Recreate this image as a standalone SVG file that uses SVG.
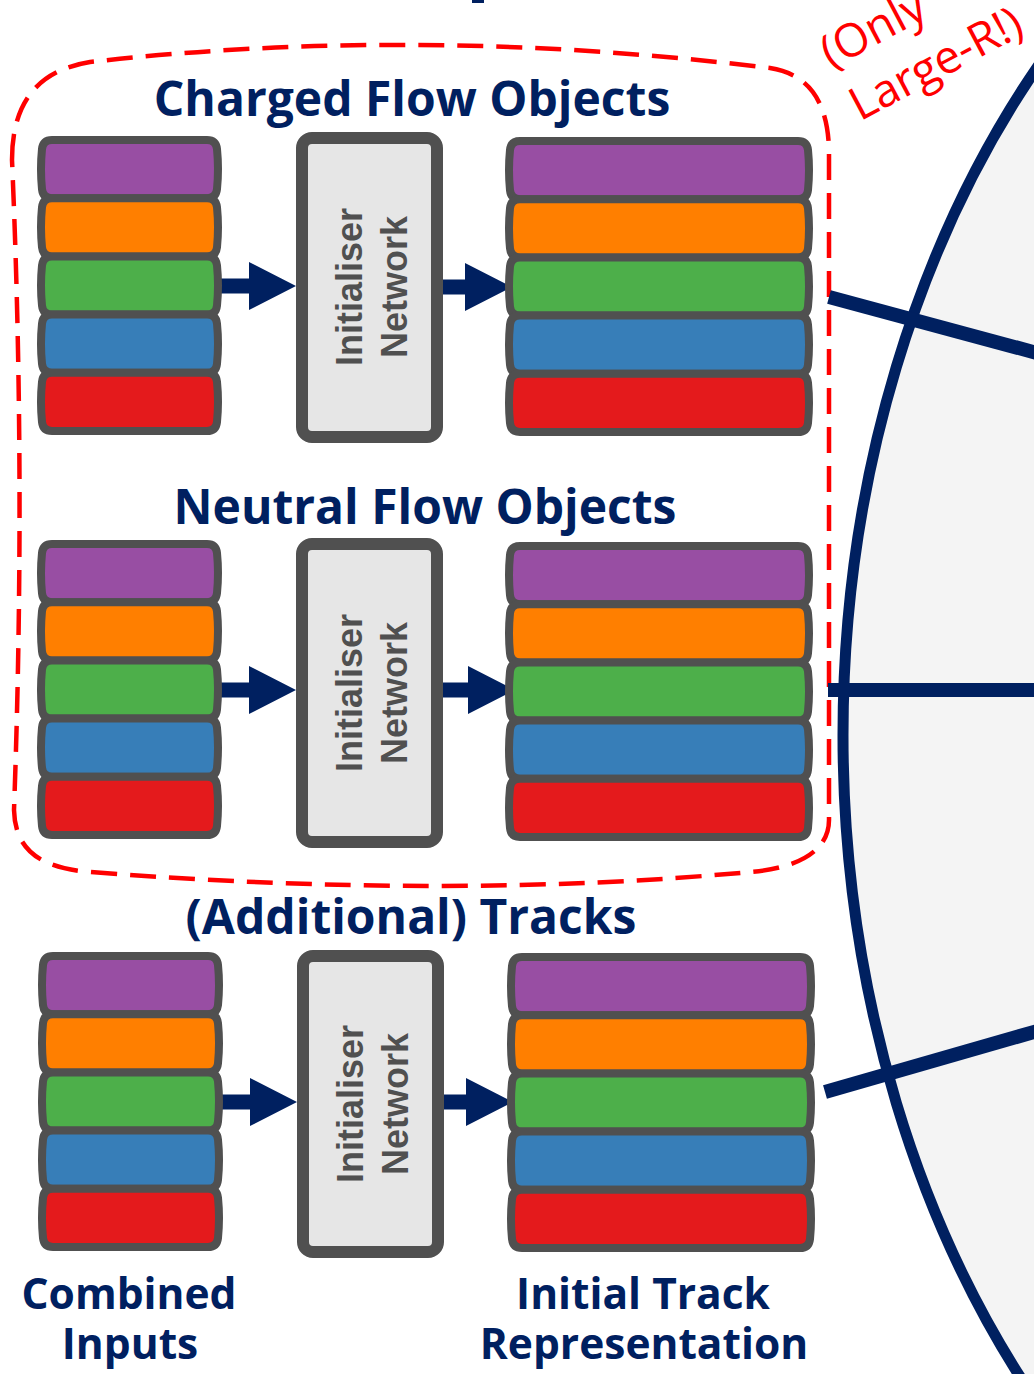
<svg xmlns="http://www.w3.org/2000/svg" xmlns:xlink="http://www.w3.org/1999/xlink" width="1034" height="1374" viewBox="0 0 1034 1374">
<style>
.bar{stroke:#505050;stroke-width:8;stroke-linejoin:round}
.p{fill:#984ea3}.o{fill:#ff7f00}.g{fill:#4daf4a}.b{fill:#377eb8}.r{fill:#e41a1c}
.box{fill:#e6e6e6;stroke:#505050;stroke-width:12}
.net{font-family:"Liberation Sans",Arial,sans-serif;font-weight:bold;font-size:36px;fill:#505050;text-anchor:middle}
.title{font-family:"Open Sans",sans-serif;font-weight:bold;font-size:48px;fill:#002060;text-anchor:middle}
.label{font-family:"Open Sans",sans-serif;font-weight:bold;font-size:42.5px;fill:#002060;text-anchor:middle}
.note{font-family:"Open Sans",sans-serif;font-size:46px;fill:#ff0000}
.arrow{fill:#002060}
.link{stroke:#002060;stroke-width:14;fill:none}
</style>
<defs>
<path id="lbar" d="M15,0 H170 Q179,0 180,9 Q182,29.1 180,49.2 Q179,58.2 170,58.2 H15 Q6,58.2 5,49.2 Q3,29.1 5,9 Q6,0 15,0 Z"/>
<path id="rbar" d="M15,0 H293 Q302,0 303,9 Q305,29.1 303,49.2 Q302,58.2 293,58.2 H15 Q6,58.2 5,49.2 Q3,29.1 5,9 Q6,0 15,0 Z"/>
<g id="lstack">
<use xlink:href="#lbar" href="#lbar" y="4" class="bar p"/>
<use xlink:href="#lbar" href="#lbar" y="62.2" class="bar o"/>
<use xlink:href="#lbar" href="#lbar" y="120.4" class="bar g"/>
<use xlink:href="#lbar" href="#lbar" y="178.6" class="bar b"/>
<use xlink:href="#lbar" href="#lbar" y="236.8" class="bar r"/>
</g>
<g id="rstack">
<use xlink:href="#rbar" href="#rbar" y="4" class="bar p"/>
<use xlink:href="#rbar" href="#rbar" y="62.2" class="bar o"/>
<use xlink:href="#rbar" href="#rbar" y="120.4" class="bar g"/>
<use xlink:href="#rbar" href="#rbar" y="178.6" class="bar b"/>
<use xlink:href="#rbar" href="#rbar" y="236.8" class="bar r"/>
</g>
<path id="arr" d="M0,-7.5 H28 V-24 L75,0 L28,24 V7.5 H0 Z"/>
</defs>
<rect width="1034" height="1374" fill="#ffffff"/>

<g id="encoder-ellipse">
<ellipse cx="1603" cy="735" rx="760" ry="1000" fill="#f4f4f4" stroke="#002060" stroke-width="11"/>
</g>

<rect x="472" y="0" width="12" height="3" fill="#002060"/>

<g id="large-r-region">
<path d="M12,160 C12,100 40,70 90,62 Q420,25 770,68 C815,75 828,110 829,150 L829,820 C829,850 800,868 750,872 Q450,900 90,872 C40,868 15,850 14,810 Q26,480 12,160 Z" fill="none" stroke="#ff0000" stroke-width="4.5" stroke-dasharray="26 13"/>
<g transform="translate(831,69) rotate(-28)">
<text class="note" x="0" y="0">(Only</text>
<text class="note" x="1" y="60">Large-R!)</text>
</g>
</g>

<g id="titles">
<text class="title" x="412" y="116">Charged Flow Objects</text>
<text class="title" x="425" y="524">Neutral Flow Objects</text>
<text class="title" x="411" y="934">(Additional) Tracks</text>
<text class="label" x="129" y="1309">Combined</text>
<text class="label" x="130" y="1359">Inputs</text>
<text class="label" x="643" y="1309">Initial Track</text>
<text class="label" x="644" y="1359">Representation</text>
</g>

<g id="connectors">
<use xlink:href="#arr" href="#arr" x="221" y="286" class="arrow"/>
<use xlink:href="#arr" href="#arr" x="437" y="287" class="arrow"/>
<use xlink:href="#arr" href="#arr" x="221" y="690" class="arrow"/>
<use xlink:href="#arr" href="#arr" x="440" y="690" class="arrow"/>
<use xlink:href="#arr" href="#arr" x="222" y="1102" class="arrow"/>
<use xlink:href="#arr" href="#arr" x="438" y="1102" class="arrow"/>
<line class="link" x1="829" y1="297" x2="1100" y2="370"/>
<line class="link" x1="828" y1="690" x2="1100" y2="690"/>
<line class="link" x1="825" y1="1092" x2="1100" y2="1013"/>
</g>

<g id="charged-inputs"><use xlink:href="#lstack" href="#lstack" x="37" y="136"/></g>
<g id="charged-initialiser">
<rect class="box" x="302" y="138" width="135" height="299" rx="10"/>
<g transform="translate(370,287) rotate(-90)"><text class="net" x="0" y="-8">Initialiser</text><text class="net" x="0" y="37">Network</text></g>
</g>
<g id="charged-outputs"><use xlink:href="#rstack" href="#rstack" x="505" y="137"/></g>

<g id="neutral-inputs"><use xlink:href="#lstack" href="#lstack" x="37" y="540"/></g>
<g id="neutral-initialiser">
<rect class="box" x="302" y="544" width="135" height="298" rx="10"/>
<g transform="translate(370,693) rotate(-90)"><text class="net" x="0" y="-8">Initialiser</text><text class="net" x="0" y="37">Network</text></g>
</g>
<g id="neutral-outputs"><use xlink:href="#rstack" href="#rstack" x="505" y="542"/></g>

<g id="track-inputs"><use xlink:href="#lstack" href="#lstack" x="38" y="952"/></g>
<g id="track-initialiser">
<rect class="box" x="303" y="956" width="135" height="296" rx="10"/>
<g transform="translate(371,1104) rotate(-90)"><text class="net" x="0" y="-8">Initialiser</text><text class="net" x="0" y="37">Network</text></g>
</g>
<g id="track-outputs"><use xlink:href="#rstack" href="#rstack" x="507" y="953"/></g>
</svg>
